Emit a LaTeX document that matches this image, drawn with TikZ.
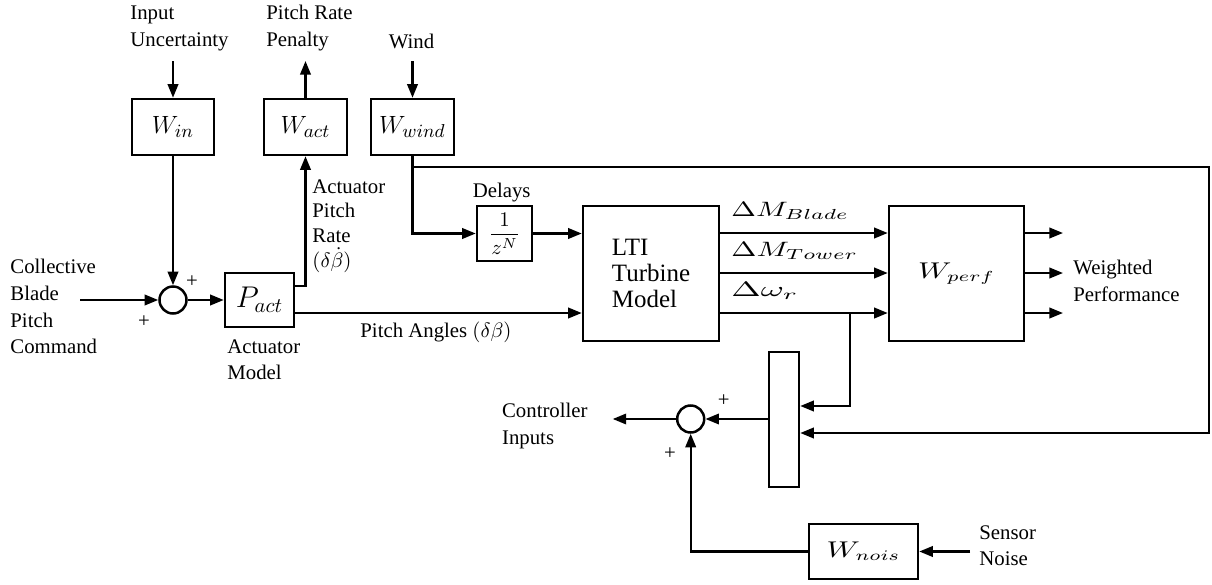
\documentclass[tikz,border=0pt]{standalone}
\usepackage[no-math]{fontspec}
\setmainfont{Liberation Serif}
\usepackage{amsmath}
\usepackage{graphicx}
\usetikzlibrary{arrows.meta}
\tikzset{
  ln/.style={line width=1.1pt},
  arr/.style={line width=1.1pt,-{Triangle[length=6.5pt,width=5pt]}},
  blk/.style 2 args={draw, line width=1.2pt, minimum width=#1*0.4808pt, minimum height=#2*0.4808pt, inner sep=0pt},
  sumc/.style={draw, circle, line width=1.2pt, minimum size=27*0.4808pt, inner sep=0pt},
  lbl/.style={inner sep=0pt, align=left},
  wtop/.style={font=\fontsize{13}{15}\selectfont},
  wbig/.style={font=\fontsize{10.5}{12}\selectfont},
  dlab/.style={anchor=base west, inner sep=0pt, font=\fontsize{9.8}{11}\selectfont},
}
\begin{document}
\begin{tikzpicture}[x=0.4808pt,y=-0.4808pt, font=\fontsize{10}{13}\selectfont]
\useasboundingbox (0,0) rectangle (1212,585);

% blocks
\node[blk={82}{56}, wtop] (win) at (173,127) {$W_{in}$};
\node[blk={83}{56}, wtop] (wact) at (305.5,127) {$W_{act}$};
\node[blk={83}{56}, wtop] (wwind) at (412.5,127) {$W_{wind}$};
\node[sumc] (sum1) at (173,300) {};
\node[blk={69}{54}, font=\fontsize{14.4}{17}\selectfont] (pact) at (259.5,300) {$P_{act}$};
\node[blk={55}{55}] (delay) at (504.5,233.5) {$\dfrac{1}{z^N}$};
\node[blk={136}{135}, align=left, font=\fontsize{12}{12.5}\selectfont] (lti) at (651,273.5) {LTI\\Turbine\\Model};
\node[blk={135}{135}, wbig] (wperf) at (956.5,273.5) {\scalebox{1.35}[1]{$W_{perf}$}};
\node[blk={30}{135}] (mux) at (784,419.5) {};
\node[sumc] (sum2) at (690.7,419) {};
\node[blk={109}{55}, wbig] (wnois) at (863.5,551.5) {\scalebox{1.35}[1]{$W_{nois}$}};

% free ends
\coordinate (inU) at (173,61);
\coordinate (penU) at (305.5,61);
\coordinate (windU) at (412.5,61);
\coordinate (cmd) at (80,300);
\coordinate (rc) at (1209,433);
\coordinate (br) at (850,313);
\coordinate (o1) at (1063,233);
\coordinate (o2) at (1063,273);
\coordinate (o3) at (1063,313);
\coordinate (ci) at (612.7,419);
\coordinate (sn) at (970,551.5);

% texts
\node[lbl, anchor=west] (tin) at (130,28.4) {Input\\Uncertainty};
\node[lbl, anchor=west] (tpen) at (266,28.4) {Pitch Rate\\Penalty};
\node[lbl] (twind) at (411.5,41.7) {Wind};
\node[lbl, anchor=west, font=\fontsize{10}{11.8}\selectfont] (tapr) at (312,226) {Actuator\\Pitch\\Rate\\$(\delta\dot{\beta})$};
\node[lbl, anchor=west, font=\fontsize{10}{12.8}\selectfont] (tcbp) at (10,306.7) {Collective\\Blade\\Pitch\\Command};
\node[lbl, anchor=west, font=\fontsize{10}{12.5}\selectfont] (tam) at (227,360) {Actuator\\Model};
\node[lbl] (tdel) at (501.7,193) {Delays};
\node[lbl, anchor=west] (tpa) at (360,332) {Pitch Angles $(\delta\beta)$};
\node[lbl, anchor=west] (twp) at (1073,280.5) {Weighted\\Performance};
\node[lbl, anchor=west] (tci) at (501.7,426) {Controller\\Inputs};
\node[lbl, anchor=west, font=\fontsize{10}{12.5}\selectfont] (tsn) at (979,546) {Sensor\\Noise};
\node[lbl] (p1) at (192,282) {+};
\node[lbl] (p2) at (144,322) {+};
\node[lbl] (p3) at (723.7,400.7) {+};
\node[lbl] (p4) at (670,454) {+};
\node[dlab] (lb1) at (731,216.7) {\scalebox{1.42}[1]{$\Delta M_{Blade}$}};
\node[dlab] (lb2) at (731,256.7) {\scalebox{1.45}[1]{$\Delta M_{Tower}$}};
\node[dlab] (lb3) at (731,296.7) {\scalebox{1.7}[1]{$\Delta\omega_r$}};

% connectors
\draw[arr] (inU) -- (win.north);
\draw[arr] (wact.north) -- (penU);
\draw[arr] (windU) -- (wwind.north);
\draw[arr] (win.south) -- (sum1.north);
\draw[arr] (cmd) -- (sum1.west);
\draw[arr] (sum1.east) -- (pact.west);
\draw[arr] (pact.east |- 0,286) -| (wact.south);
\draw[arr] (pact.east |- 0,313) -- (lti.west |- 0,313);
\draw[arr] (wwind.south) |- (delay.west);
\draw[arr] (wwind.south |- 0,167) -| (rc) -- (mux.east |- rc);
\draw[arr] (delay.east) -- (lti.west |- delay.east);
\draw[arr] (lti.east |- o1) -- (wperf.west |- o1);
\draw[arr] (lti.east |- o2) -- (wperf.west |- o2);
\draw[arr] (lti.east |- o3) -- (wperf.west |- o3);
\draw[arr] (br) |- (mux.east |- 0,406);
\draw[arr] (wperf.east |- o1) -- (o1);
\draw[arr] (wperf.east |- o2) -- (o2);
\draw[arr] (wperf.east |- o3) -- (o3);
\draw[arr] (mux.west |- sum2.east) -- (sum2.east);
\draw[arr] (sum2.west) -- (ci);
\draw[arr] (wnois.west) -| (sum2.south);
\draw[arr] (sn) -- (wnois.east);
\end{tikzpicture}
\end{document}
